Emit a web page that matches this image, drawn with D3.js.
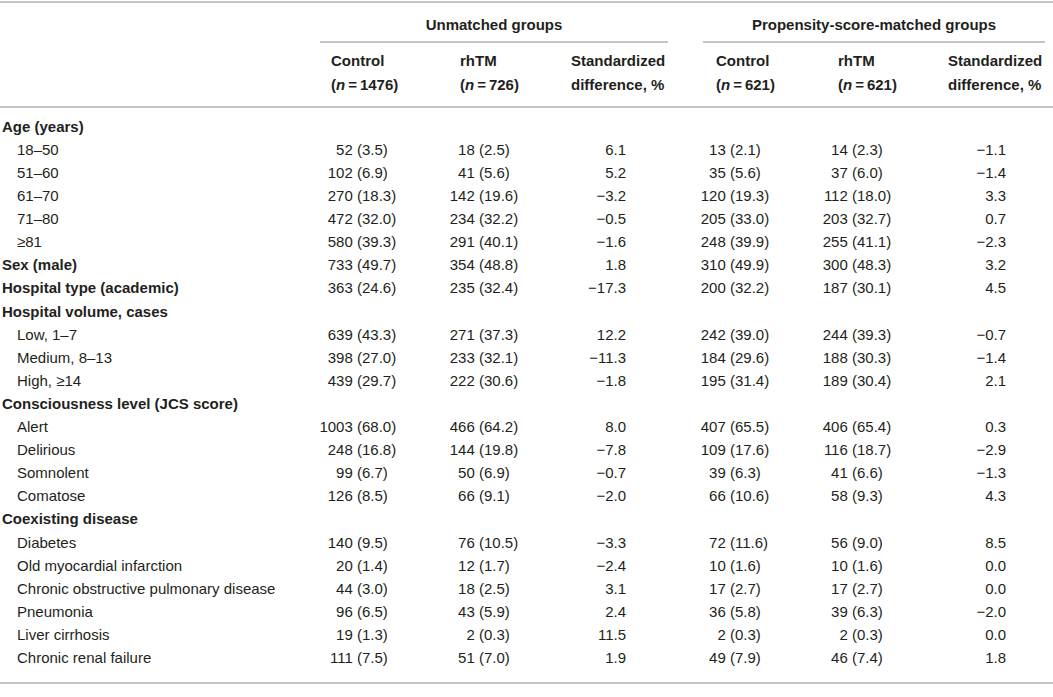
<!DOCTYPE html>
<html>
<head>
<meta charset="utf-8">
<script src="https://cdn.jsdelivr.net/npm/d3@7"></script>
<style>
  body { margin: 0; background: #fff; }
  svg text { font-family: "Liberation Sans", Arial, Helvetica, sans-serif; font-size: 15px; fill: #231f20; }
</style>
</head>
<body>
<svg id="tbl" width="1053" height="697"></svg>
<script>
// row labels, in order; sections have no values
const labels = [
  "Age (years)", "18–50", "51–60", "61–70", "71–80", "≥81",
  "Sex (male)", "Hospital type (academic)",
  "Hospital volume, cases", "Low, 1–7", "Medium, 8–13", "High, ≥14",
  "Consciousness level (JCS score)", "Alert", "Delirious", "Somnolent", "Comatose",
  "Coexisting disease", "Diabetes", "Old myocardial infarction",
  "Chronic obstructive pulmonary disease", "Pneumonia", "Liver cirrhosis", "Chronic renal failure"
];
const boldRows = ["Age (years)", "Sex (male)", "Hospital type (academic)", "Hospital volume, cases",
  "Consciousness level (JCS score)", "Coexisting disease"];

// unmatched groups
const ctrlN   = [null, 52, 102, 270, 472, 580, 733, 363, null, 639, 398, 439, null, 1003, 248, 99, 126, null, 140, 20, 44, 96, 19, 111];
const ctrlPct = [null, 3.5, 6.9, 18.3, 32.0, 39.3, 49.7, 24.6, null, 43.3, 27.0, 29.7, null, 68.0, 16.8, 6.7, 8.5, null, 9.5, 1.4, 3.0, 6.5, 1.3, 7.5];
const rhtmN   = [null, 18, 41, 142, 234, 291, 354, 235, null, 271, 233, 222, null, 466, 144, 50, 66, null, 76, 12, 18, 43, 2, 51];
const rhtmPct = [null, 2.5, 5.6, 19.6, 32.2, 40.1, 48.8, 32.4, null, 37.3, 32.1, 30.6, null, 64.2, 19.8, 6.9, 9.1, null, 10.5, 1.7, 2.5, 5.9, 0.3, 7.0];
const stdDiff = [null, 6.1, 5.2, -3.2, -0.5, -1.6, 1.8, -17.3, null, 12.2, -11.3, -1.8, null, 8.0, -7.8, -0.7, -2.0, null, -3.3, -2.4, 3.1, 2.4, 11.5, 1.9];

// propensity-score-matched groups
const mCtrlN   = [null, 13, 35, 120, 205, 248, 310, 200, null, 242, 184, 195, null, 407, 109, 39, 66, null, 72, 10, 17, 36, 2, 49];
const mCtrlPct = [null, 2.1, 5.6, 19.3, 33.0, 39.9, 49.9, 32.2, null, 39.0, 29.6, 31.4, null, 65.5, 17.6, 6.3, 10.6, null, 11.6, 1.6, 2.7, 5.8, 0.3, 7.9];
const mRhtmN   = [null, 14, 37, 112, 203, 255, 300, 187, null, 244, 188, 189, null, 406, 116, 41, 58, null, 56, 10, 17, 39, 2, 46];
const mRhtmPct = [null, 2.3, 6.0, 18.0, 32.7, 41.1, 48.3, 30.1, null, 39.3, 30.3, 30.4, null, 65.4, 18.7, 6.6, 9.3, null, 9.0, 1.6, 2.7, 6.3, 0.3, 7.4];
const mStdDiff = [null, -1.1, -1.4, 3.3, 0.7, -2.3, 3.2, 4.5, null, -0.7, -1.4, 2.1, null, 0.3, -2.9, -1.3, 4.3, null, 8.5, 0.0, 0.0, -2.0, 0.0, 1.8];

const groupTitles = ["Unmatched groups", "Propensity-score-matched groups"];
const colTitles = [["Control", "1476"], ["rhTM", "726"], ["Standardized", "difference, %"],
                   ["Control", "621"], ["rhTM", "621"], ["Standardized", "difference, %"]];

const svg = d3.select("#tbl");
const W = 1053;
const f1 = d3.format(".1f"); // d3 v7 gives a real minus sign
const lineColor = "#c4c4c4";

const y = d3.scalePoint().domain(d3.range(labels.length)).range([131.7, 663]);

// table rules
const rule = (x1, x2, yy) => svg.append("line")
  .attr("x1", x1).attr("x2", x2).attr("y1", yy).attr("y2", yy)
  .attr("stroke", lineColor).attr("stroke-width", 2);
rule(0, W, 2);
rule(320, 668, 42);
rule(703, 1045, 42);
rule(0, W, 107);
rule(0, W, 683);

// group titles
const groupX = [494, 874];
svg.selectAll("text.group").data(groupTitles).join("text")
  .attr("class", "group")
  .attr("x", (d, i) => groupX[i]).attr("y", 30)
  .attr("text-anchor", "middle").attr("font-weight", "bold")
  .text(d => d);

// column titles
const headX = [331, 460, 571, 716, 838, 948];
colTitles.forEach((c, i) => {
  svg.append("text").attr("x", headX[i]).attr("y", 66).attr("font-weight", "bold").text(c[0]);
  const t = svg.append("text").attr("x", headX[i]).attr("y", 90).attr("font-weight", "bold");
  if (c[0] === "Standardized") {
    t.text(c[1]);
  } else {
    t.append("tspan").text("(");
    t.append("tspan").attr("font-style", "italic").text("n");
    t.append("tspan").text("\u2009=\u2009" + c[1] + ")");
  }
});

// row labels
svg.selectAll("text.lab").data(labels).join("text")
  .attr("class", "lab")
  .attr("x", d => boldRows.includes(d) ? 2 : 17)
  .attr("y", (d, i) => y(i))
  .attr("font-weight", d => boldRows.includes(d) ? "bold" : null)
  .text(d => d);

// n (%) columns, lined up on the opening parenthesis
function countCol(ns, pcts, px) {
  const rows = d3.range(labels.length).filter(i => ns[i] !== null);
  svg.append("g").selectAll("text").data(rows).join("text")
    .attr("x", px - 4.2).attr("y", i => y(i))
    .attr("text-anchor", "end").text(i => ns[i]);
  svg.append("g").selectAll("text").data(rows).join("text")
    .attr("x", px).attr("y", i => y(i))
    .text(i => "(" + f1(pcts[i]) + ")");
}
function diffCol(vals, rx) {
  const rows = d3.range(labels.length).filter(i => vals[i] !== null);
  svg.append("g").selectAll("text").data(rows).join("text")
    .attr("x", rx).attr("y", i => y(i))
    .attr("text-anchor", "end").text(i => f1(vals[i]));
}

countCol(ctrlN, ctrlPct, 357);
countCol(rhtmN, rhtmPct, 479);
diffCol(stdDiff, 626);
countCol(mCtrlN, mCtrlPct, 730);
countCol(mRhtmN, mRhtmPct, 852);
diffCol(mStdDiff, 1006);
</script>
</body>
</html>
